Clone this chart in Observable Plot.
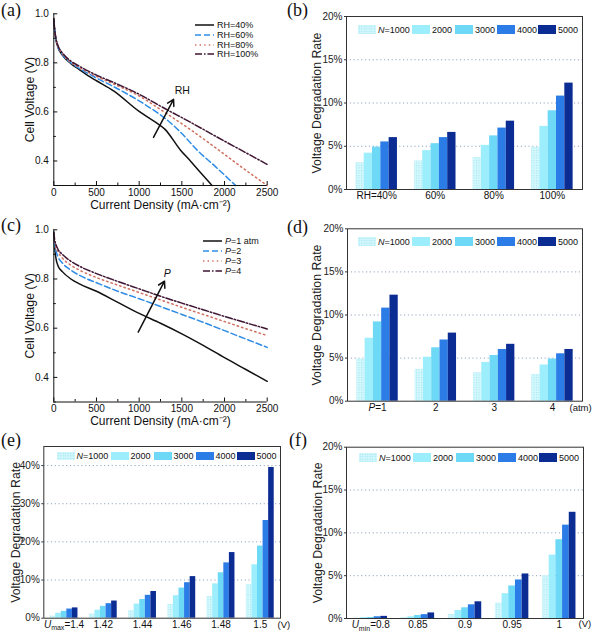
<!DOCTYPE html>
<html><head><meta charset="utf-8">
<script src="https://cdn.jsdelivr.net/npm/d3@7"></script>
<script src="https://cdn.jsdelivr.net/npm/@observablehq/plot@0.6"></script>
<style>
body{margin:0;background:#fff;}
#root{position:relative;width:593px;height:633px;overflow:hidden;background:#fff;
  font-family:'Liberation Sans',Arial,sans-serif;color:#111;}
.cell{position:absolute;}
.cell svg{background:transparent !important;}
.plab{position:absolute;font-family:'Liberation Serif','DejaVu Serif',serif;font-size:18px;line-height:18px;color:#111;}
.lrow{position:absolute;height:12px;display:flex;align-items:center;font-size:9px;white-space:nowrap;}
.lrow svg{margin-right:3px;}
.bleg{position:absolute;height:12px;display:flex;align-items:center;font-size:9px;white-space:nowrap;}
.bitem{display:flex;align-items:center;}
.bsw{display:inline-block;width:18px;height:8.5px;margin-right:2px;flex:none;}
g[aria-label="y-axis label"] text{font-size:12.3px;}
g[aria-label="x-axis label"] text{font-size:12px;}
.bar g[aria-label="x-axis tick label"] text, .bar g[aria-label="y-axis tick label"] text{font-size:10px;}
</style></head>
<body><div id="root"></div>
<svg width="0" height="0" style="position:absolute">
  <defs>
    <pattern id="dots" width="2.5" height="2.5" patternUnits="userSpaceOnUse">
      <rect width="2.5" height="2.5" fill="#d2f7fc"></rect>
      <rect width="1" height="1" fill="#a3e7f2"></rect>
    </pattern>
  </defs>
</svg>
<script>
// ---------- data ----------
const rhNames = ["RH=40%", "RH=60%", "RH=80%", "RH=100%"];
const rh40 = [[0,0.98],[10,0.935],[25,0.895],[50,0.862],[100,0.832],[200,0.797],[300,0.772],[400,0.748],[500,0.727],[700,0.686],[1000,0.602],[1200,0.556],[1300,0.53],[1485,0.444],[1600,0.4],[1700,0.36],[1855,0.3]];
const rh60 = [[0,0.98],[10,0.935],[25,0.897],[50,0.865],[100,0.835],[200,0.8],[300,0.777],[400,0.757],[500,0.738],[700,0.703],[1000,0.645],[1200,0.6],[1300,0.575],[1500,0.512],[1680,0.444],[1900,0.375],[2130,0.3]];
const rh80 = [[0,0.98],[10,0.935],[25,0.898],[50,0.867],[100,0.838],[200,0.803],[300,0.781],[400,0.762],[500,0.745],[700,0.714],[1000,0.665],[1300,0.598],[1600,0.528],[1933,0.444],[2200,0.375],[2500,0.3]];
const rh100 = [[0,0.98],[10,0.937],[25,0.9],[50,0.87],[100,0.841],[200,0.807],[300,0.786],[400,0.767],[500,0.75],[700,0.72],[1000,0.672],[1300,0.614],[1600,0.558],[1900,0.5],[2200,0.443],[2500,0.386]];

const pNames = ["P=1 atm", "P=2", "P=3", "P=4"];
const p1 = [[0,0.99],[10,0.93],[25,0.885],[50,0.853],[100,0.83],[200,0.8],[300,0.78],[500,0.75],[750,0.705],[1000,0.66],[1250,0.62],[1500,0.577],[1750,0.53],[2000,0.48],[2250,0.432],[2500,0.384]];
const p2 = [[0,0.99],[10,0.945],[25,0.915],[50,0.89],[100,0.865],[200,0.836],[300,0.815],[500,0.785],[750,0.75],[1000,0.72],[1250,0.688],[1500,0.656],[1750,0.624],[2000,0.59],[2250,0.556],[2500,0.522]];
const p3 = [[0,0.99],[10,0.955],[25,0.93],[50,0.91],[100,0.885],[200,0.856],[300,0.836],[500,0.806],[750,0.775],[1000,0.745],[1250,0.715],[1500,0.685],[1750,0.656],[2000,0.627],[2250,0.598],[2500,0.57]];
const p4 = [[0,0.99],[10,0.96],[25,0.94],[50,0.92],[100,0.9],[200,0.872],[300,0.852],[500,0.822],[750,0.79],[1000,0.76],[1250,0.73],[1500,0.702],[1750,0.675],[2000,0.648],[2250,0.622],[2500,0.597]];

const arrowA = [{x1: 1168, y1: 0.496, x2: 1403, y2: 0.651}];
const arrowALabel = [{x: 1505, y: 0.686, text: "RH"}];
const arrowC = [{x1: 989, y1: 0.584, x2: 1297, y2: 0.791}];
const arrowCLabel = [{x: 1329, y: 0.821, text: "P"}];

const currentTicks = [0, 500, 1000, 1500, 2000, 2500];
const currentMinor = [250, 750, 1250, 1750, 2250];
const voltTicks = [0.4, 0.6, 0.8, 1.0];
const voltMinor = [0.3, 0.5, 0.7, 0.9];

const cycleNames = ["N=1000", "2000", "3000", "4000", "5000"];

const rhGroups = ["RH=40%", "60%", "80%", "100%"];
const rhRates = [[3.1,4.2,4.9,5.5,6.0],[3.3,4.5,5.3,6.0,6.6],[3.7,5.1,6.2,7.1,7.9],[4.9,7.3,9.1,10.8,12.3]];

const pGroups = ["P=1", "2", "3", "4"];
const pRates = [[4.9,7.3,9.2,10.8,12.3],[3.7,5.1,6.2,7.1,7.9],[3.3,4.5,5.3,6.0,6.6],[3.1,4.2,4.9,5.5,6.0]];

const umaxGroups = ["Umax=1.4", "1.42", "1.44", "1.46", "1.48", "1.5"];
const umaxRates = [[0.6,1.3,1.8,2.4,2.7],[1.1,2.1,3.1,3.8,4.5],[2.0,3.7,4.9,6.0,7.0],[3.6,5.9,7.9,9.3,10.9],[5.7,9.0,11.9,14.5,17.2],[8.8,14.0,18.9,25.6,39.5]];

const uminGroups = ["Umin=0.8", "0.85", "0.9", "0.95", "1"];
const uminRates = [[0.05,0.1,0.12,0.2,0.25],[0.1,0.2,0.35,0.45,0.65],[0.47,0.93,1.25,1.6,1.95],[1.8,2.9,3.8,4.5,5.2],[5.0,7.4,9.2,10.9,12.4]];

const rateTicks20 = [0, 5, 10, 15, 20];
const rateGrid20 = [5, 10, 15];
const rateTicks45 = [0, 10, 20, 30, 40];
const rateGrid45 = [10, 20, 30, 40];

// ---------- styles ----------
const lineColors = ["#111111", "#2f8ce6", "#d2705f", "#3e1532"];
const lineDashes = [null, "6,3", "1.4,3.2", "7,2,1.5,2"];
const barFills = ["url(#dots)", "#9ceefc", "#6dd9f7", "#2b7ce6", "#0b2c92"];
const barSwatch = ["", "#9ceefc", "#6dd9f7", "#2b7ce6", "#0b2c92"];
const FONT = "'Liberation Sans',Arial,sans-serif";

const root = document.getElementById("root");

function place(node, left, top, cls) {
  const d = document.createElement("div");
  d.className = "cell" + (cls ? " " + cls : "");
  d.style.left = left + "px"; d.style.top = top + "px";
  d.appendChild(node);
  root.appendChild(d);
}

function panelLabel(txt, left, top) {
  const d = document.createElement("div");
  d.className = "plab"; d.textContent = txt;
  d.style.left = left + "px"; d.style.top = top + "px";
  root.appendChild(d);
}

function linePanel({series, cell, m, arrow, arrowLabel, italicLabel}) {
  const marks = [];
  series.forEach((pts, k) => {
    marks.push(Plot.line(pts, {x: d => d[0], y: d => d[1], stroke: lineColors[k], strokeWidth: 1.5,
      strokeDasharray: lineDashes[k], curve: "monotone-x"}));
  });
  marks.push(Plot.ruleX([0], {stroke: "#111", strokeWidth: 1}));
  marks.push(Plot.ruleY([0.3], {stroke: "#111", strokeWidth: 1}));
  marks.push(Plot.arrow(arrow, {x1: "x1", y1: "y1", x2: "x2", y2: "y2", stroke: "#111", strokeWidth: 1.5, headLength: 7}));
  marks.push(Plot.text(arrowLabel, {x: "x", y: "y", text: "text", fontSize: 10.5, fill: "#111", fontStyle: italicLabel ? "italic" : "normal"}));
  marks.push(Plot.axisX({ticks: currentTicks, tickSize: -4, tickPadding: 7, tickFormat: d => String(d),
    label: "Current Density (mA·cm⁻²)", labelAnchor: "center", labelOffset: 23, labelArrow: "none", stroke: "#111", fill: "#111"}));
  marks.push(Plot.axisX({ticks: currentMinor, tickSize: -2.5, tickFormat: () => "", label: null, stroke: "#111"}));
  marks.push(Plot.axisY({ticks: voltTicks, tickSize: -4, tickPadding: 9, tickFormat: d3.format(".1f"),
    label: "Cell Voltage (V)", labelAnchor: "center", labelOffset: 29, labelArrow: "none", stroke: "#111", fill: "#111"}));
  marks.push(Plot.axisY({ticks: voltMinor, tickSize: -2.5, tickFormat: () => "", label: null, stroke: "#111"}));
  return Plot.plot({
    width: cell.w, height: cell.h,
    marginLeft: m[0], marginTop: m[1], marginRight: m[2], marginBottom: m[3],
    style: {background: "transparent", fontFamily: FONT, fontSize: "10px", color: "#111", overflow: "visible"},
    x: {domain: [0, 2500]},
    y: {domain: [0.3, 1.0]},
    marks
  });
}

function barPanel({groups, rates, cell, m, yMax, yTicks, grid, labelOffset, unit, unitDx, unitDy}) {
  const n = groups.length, bw = 0.142;
  const rows = [];
  rates.forEach((vals, i) => vals.forEach((v, j) => rows.push({i, j, v})));
  const marks = [
    Plot.ruleY(grid, {stroke: "#93a6c4", strokeDasharray: "1.2,2.6", strokeWidth: 1})
  ];
  for (let j = 0; j < 5; j++) {
    marks.push(Plot.rectY(rows.filter(r => r.j === j), {
      x1: d => d.i + (d.j - 2.5) * bw, x2: d => d.i + (d.j - 1.5) * bw,
      y1: 0, y2: "v", fill: barFills[j]
    }));
  }
  marks.push(Plot.frame({stroke: "#333", strokeWidth: 1}));
  marks.push(Plot.axisY({ticks: yTicks, tickSize: 2, tickPadding: 2, tickFormat: d => d + "%",
    label: "Voltage Degradation Rate", labelAnchor: "center", labelOffset, labelArrow: "none", stroke: "#333", fill: "#222"}));
  marks.push(Plot.axisX({ticks: d3.range(n), tickSize: 0, tickPadding: 2.5, tickFormat: i => groups[i], label: null, fill: "#111"}));
  if (unit) {
    marks.push(Plot.text([unit], {text: d => d, frameAnchor: "bottom-right", textAnchor: "start", lineAnchor: "middle",
      dx: unitDx, dy: unitDy, fontSize: 9.5, fill: "#111"}));
  }
  return Plot.plot({
    width: cell.w, height: cell.h,
    marginLeft: m[0], marginTop: m[1], marginRight: m[2], marginBottom: m[3],
    style: {background: "transparent", fontFamily: FONT, fontSize: "10px", color: "#111", overflow: "visible"},
    x: {type: "linear", domain: [-0.515, n - 0.485]},
    y: {domain: [0, yMax]},
    marks
  });
}

function richFirstTick(svg, main, sub, rest) {
  const t = svg.querySelector('g[aria-label="x-axis tick label"] text');
  if (!t) return;
  while (t.firstChild) t.removeChild(t.firstChild);
  const ns = "http://www.w3.org/2000/svg";
  const a = document.createElementNS(ns, "tspan");
  a.setAttribute("font-style", "italic"); a.textContent = main; t.appendChild(a);
  if (sub) {
    const s = document.createElementNS(ns, "tspan");
    s.setAttribute("font-size", "7"); s.setAttribute("dy", "2.5"); s.textContent = sub; t.appendChild(s);
    const r = document.createElementNS(ns, "tspan");
    r.setAttribute("dy", "-2.5"); r.textContent = rest; t.appendChild(r);
  } else {
    const r = document.createElementNS(ns, "tspan");
    r.textContent = rest; t.appendChild(r);
  }
}

function lineLegend(names, left, rows, italicP) {
  names.forEach((name, k) => {
    const d = document.createElement("div");
    d.className = "lrow";
    d.style.left = left + "px"; d.style.top = (rows[k] - 6) + "px";
    const dash = lineDashes[k] ? ` stroke-dasharray="${lineDashes[k]}"` : "";
    const label = italicP ? name.replace(/^P/, "<i>P</i>") : name;
    d.innerHTML = `<svg width="19" height="4"><line x1="0" y1="2" x2="19" y2="2" stroke="${lineColors[k]}" stroke-width="1.5"${dash}></line></svg><span>${label}</span>`;
    root.appendChild(d);
  });
}

function barLegend(left, cy) {
  const d = document.createElement("div");
  d.className = "bleg";
  d.style.left = left + "px"; d.style.top = (cy - 6) + "px";
  const widths = [54, 43, 42, 41, 40];
  cycleNames.forEach((name, j) => {
    const it = document.createElement("span");
    it.className = "bitem"; it.style.width = widths[j] + "px";
    const sw = document.createElement("span");
    sw.className = "bsw";
    if (j === 0) {
      sw.style.background = "#d2f7fc";
      sw.style.backgroundImage = "radial-gradient(#9fe4f0 0.6px, transparent 0.9px)";
      sw.style.backgroundSize = "2.5px 2.5px";
    } else sw.style.background = barSwatch[j];
    it.appendChild(sw);
    const tx = document.createElement("span");
    tx.innerHTML = name.replace(/^N/, "<i>N</i>");
    it.appendChild(tx);
    d.appendChild(it);
  });
  root.appendChild(d);
}

// ---------- panels ----------
const a = linePanel({series: [rh40, rh60, rh80, rh100], cell: {w: 296, h: 212}, m: [53.3, 13.3, 29.3, 27],
  arrow: arrowA, arrowLabel: arrowALabel, italicLabel: false});
place(a, 0, 0, "lp");

const c = linePanel({series: [p1, p2, p3, p4], cell: {w: 296, h: 212}, m: [53.3, 17.3, 29.3, 22.5],
  arrow: arrowC, arrowLabel: arrowCLabel, italicLabel: true});
place(c, 0, 212, "lp");

const b = barPanel({groups: rhGroups, rates: rhRates, cell: {w: 297, h: 212}, m: [50, 16, 11, 23],
  yMax: 20, yTicks: rateTicks20, grid: rateGrid20, labelOffset: 34});
place(b, 296, 0, "bar");

const dd = barPanel({groups: pGroups, rates: pRates, cell: {w: 297, h: 212}, m: [51, 16.3, 11, 23.3],
  yMax: 20, yTicks: rateTicks20, grid: rateGrid20, labelOffset: 35, unit: "(atm)", unitDx: -13, unitDy: 7});
richFirstTick(dd, "P", null, "=1");
place(dd, 296, 212, "bar");

const e = barPanel({groups: umaxGroups, rates: umaxRates, cell: {w: 296, h: 209}, m: [43.3, 22, 16, 15.3],
  yMax: 45, yTicks: rateTicks45, grid: rateGrid45, labelOffset: 33, unit: "(V)", unitDx: -3, unitDy: 6.3});
richFirstTick(e, "U", "max", "=1.4");
place(e, 0, 424, "bar");

const f = barPanel({groups: uminGroups, rates: uminRates, cell: {w: 297, h: 209}, m: [50, 22.7, 10, 15],
  yMax: 20, yTicks: rateTicks20, grid: rateGrid20, labelOffset: 33, unit: "(V)", unitDx: -5, unitDy: 5.3});
richFirstTick(f, "U", "min", "=0.8");
place(f, 296, 424, "bar");

// legends
lineLegend(rhNames, 195, [25, 35, 44.5, 54.3], false);
lineLegend(pNames, 203, [240.7, 250.7, 260.7, 270.7], true);
barLegend(358, 29.5);
barLegend(358, 241.7);
barLegend(56.5, 456);
barLegend(359, 457.5);

// panel labels
panelLabel("(a)", 1, 1);
panelLabel("(b)", 287, 1);
panelLabel("(c)", 1, 216);
panelLabel("(d)", 287, 218);
panelLabel("(e)", 1, 431);
panelLabel("(f)", 289, 431);
</script>
</body></html>
